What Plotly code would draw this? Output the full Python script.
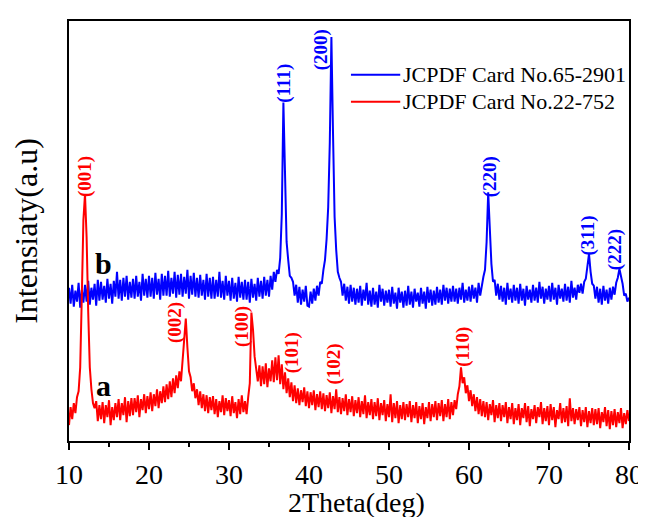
import plotly.graph_objects as go

# 2theta sampling grid (deg), 0.2 deg step from 10 to 80
two_theta = [round(10 + 0.2 * i, 1) for i in range(351)]

# Sample a (red, JCPDF 22-752) intensities, arbitrary units
intensity_a = [
    16, 34, 22, 38, 28, 44, 50, 74, 145, 222,
    248, 205, 130, 74, 52, 38, 33, 40, 20, 36,
    22, 39, 18, 36, 24, 41, 16, 34, 21, 38,
    24, 42, 21, 38, 26, 44, 19, 40, 25, 43,
    26, 43, 29, 46, 24, 42, 31, 47, 28, 45,
    32, 49, 30, 47, 35, 52, 33, 50, 38, 55,
    39, 57, 42, 60, 44, 63, 48, 66, 53, 70,
    60, 80, 100, 123, 94, 70, 64, 50, 58, 43,
    52, 36, 50, 33, 47, 30, 46, 28, 44, 31,
    45, 27, 42, 24, 40, 29, 46, 26, 43, 30,
    41, 25, 45, 28, 39, 23, 42, 27, 46, 29,
    40, 27, 44, 58, 129, 112, 85, 72, 60, 76,
    55, 75, 57, 78, 54, 73, 60, 81, 59, 84,
    61, 86, 57, 77, 52, 69, 48, 63, 44, 59,
    40, 56, 38, 53, 36, 51, 39, 54, 35, 50,
    33, 49, 36, 51, 31, 47, 34, 50, 32, 48,
    30, 46, 33, 49, 28, 45, 32, 52, 29, 44,
    27, 43, 30, 47, 26, 42, 29, 45, 25, 41,
    28, 44, 24, 40, 27, 46, 23, 39, 26, 42,
    22, 39, 25, 43, 21, 38, 26, 41, 20, 37,
    24, 47, 19, 38, 23, 40, 18, 36, 22, 39,
    21, 37, 24, 40, 19, 36, 23, 39, 18, 35,
    22, 38, 17, 34, 23, 39, 20, 37, 24, 40,
    21, 38, 25, 41, 20, 37, 24, 42, 22, 39,
    26, 41, 32, 47, 55, 74, 58, 64, 48, 56,
    40, 51, 35, 47, 30, 44, 27, 42, 25, 40,
    24, 39, 21, 37, 26, 41, 19, 36, 23, 38,
    20, 36, 24, 39, 18, 34, 22, 38, 17, 33,
    21, 37, 16, 33, 23, 38, 19, 35, 15, 32,
    22, 36, 18, 34, 24, 39, 17, 33, 20, 35,
    16, 37, 21, 34, 14, 31, 22, 38, 18, 33,
    19, 35, 15, 43, 20, 33, 17, 32, 21, 34,
    15, 31, 19, 34, 14, 30, 18, 33, 16, 32,
    17, 33, 13, 29, 19, 34, 15, 31, 12, 30,
    16, 32, 14, 29, 18, 33, 13, 28, 17, 31,
    20,
]

# Sample b (blue, JCPDF 65-2901) intensities, arbitrary units (offset upward)
intensity_b = [
    154, 138, 157, 135, 151, 140, 159, 134, 152, 139,
    157, 140, 161, 137, 154, 142, 158, 136, 162, 141,
    160, 142, 156, 139, 163, 143, 158, 138, 161, 145,
    170, 143, 162, 141, 164, 145, 166, 142, 160, 144,
    163, 143, 166, 145, 160, 141, 168, 146, 163, 144,
    166, 145, 164, 143, 169, 147, 163, 142, 168, 146,
    166, 146, 171, 145, 164, 148, 170, 144, 167, 147,
    168, 145, 165, 148, 172, 143, 166, 147, 169, 145,
    164, 144, 167, 146, 162, 142, 168, 145, 164, 143,
    165, 143, 162, 145, 170, 144, 161, 142, 166, 146,
    161, 141, 164, 143, 159, 140, 165, 144, 160, 142,
    162, 142, 160, 139, 163, 144, 158, 141, 164, 145,
    161, 143, 165, 146, 162, 145, 166, 152, 170, 160,
    172, 168, 184, 228, 340, 262, 200, 182, 166, 164,
    160, 146, 157, 139, 155, 137, 152, 140, 156, 136,
    135, 150, 138, 153, 141, 156, 146, 160, 158, 172,
    182, 203, 235, 300, 406, 310, 225, 192, 170, 164,
    160, 146, 158, 141, 155, 138, 157, 140, 154, 137,
    153, 139, 156, 136, 152, 141, 159, 137, 151, 135,
    154, 137, 150, 134, 157, 140, 153, 136, 151, 139,
    152, 135, 155, 138, 149, 133, 154, 139, 150, 134,
    151, 136, 156, 137, 150, 134, 153, 140, 149, 135,
    154, 138, 150, 133, 155, 139, 152, 136, 151, 137,
    155, 139, 152, 137, 157, 141, 154, 138, 153, 140,
    156, 140, 153, 138, 154, 142, 159, 139, 152, 141,
    155, 140, 157, 143, 154, 139, 159, 146, 158, 165,
    172, 200, 250, 205, 178, 160, 162, 146, 158, 142,
    156, 140, 154, 137, 159, 142, 153, 139, 157, 141,
    154, 138, 158, 141, 153, 136, 156, 142, 152, 139,
    157, 141, 154, 139, 160, 143, 155, 138, 153, 142,
    156, 140, 159, 142, 154, 137, 157, 143, 153, 140,
    158, 141, 155, 139, 161, 144, 154, 142, 157, 149,
    158, 148, 160, 163, 176, 188, 170, 158, 156, 143,
    155, 139, 153, 137, 156, 141, 152, 138, 154, 142,
    155, 147, 159, 164, 173, 166, 158, 146, 148, 140,
    144,
]

series_names = ["JCPDF Card No.65-2901", "JCPDF Card No.22-752"]

# Miller index labels: (text, 2theta, intensity position)
labels_b = ["(111)", "(200)", "(220)", "(311)", "(222)"]
labels_b_x = [36.87, 41.43, 62.62, 74.83, 78.28]
labels_b_y = [360, 393, 266, 206, 192]

labels_a = ["(001)", "(002)", "(100)", "(101)", "(102)", "(110)"]
labels_a_x = [11.97, 23.19, 31.57, 37.98, 43.15, 59.30]
labels_a_y = [266, 119, 115, 89, 77, 95]

sample_tags = ["a", "b"]
sample_tags_x = [14.3, 14.3]
sample_tags_y = [56, 178]

BLUE = "#0000FF"
RED = "#FF0000"
FONT = "Liberation Serif"

fig = go.Figure()
fig.add_trace(go.Scatter(x=two_theta, y=intensity_b, mode="lines", name=series_names[0],
                         line=dict(color=BLUE, width=2)))
fig.add_trace(go.Scatter(x=two_theta, y=intensity_a, mode="lines", name=series_names[1],
                         line=dict(color=RED, width=2)))

annotations = []
for t, x, y in zip(labels_b, labels_b_x, labels_b_y):
    annotations.append(dict(x=x, y=y, text=t, textangle=-90, showarrow=False,
                            font=dict(family=FONT, size=19, color=BLUE, weight="bold")))
for t, x, y in zip(labels_a, labels_a_x, labels_a_y):
    annotations.append(dict(x=x, y=y, text=t, textangle=-90, showarrow=False,
                            font=dict(family=FONT, size=19, color=RED, weight="bold")))
for t, x, y in zip(sample_tags, sample_tags_x, sample_tags_y):
    annotations.append(dict(x=x, y=y, text=t, showarrow=False,
                            font=dict(family=FONT, size=30, color="black", weight="bold")))

# Legend drawn as line samples + text (paper coordinates of the plot area)
legend_colors = [BLUE, RED]
legend_y = [0.872, 0.808]
shapes = []
for name, col, ly in zip(series_names, legend_colors, legend_y):
    shapes.append(dict(type="line", xref="paper", yref="paper", x0=0.5035, x1=0.5915,
                       y0=ly, y1=ly, line=dict(color=col, width=2)))
    annotations.append(dict(xref="paper", yref="paper", x=0.593, y=ly, xanchor="left",
                            yanchor="middle", text=name, showarrow=False,
                            font=dict(family=FONT, size=22, color="black")))

# x-axis title
annotations.append(dict(xref="paper", yref="paper", x=0.514, y=-0.146, xanchor="center",
                        yanchor="middle", text="2Theta(deg)", showarrow=False,
                        font=dict(family=FONT, size=28, color="black")))

fig.update_layout(
    width=646, height=517,
    margin=dict(l=61, r=17, t=11, b=84),
    paper_bgcolor="white", plot_bgcolor="white",
    font=dict(family=FONT, color="black"),
    showlegend=False,
    annotations=annotations,
    shapes=shapes,
    xaxis=dict(range=[10, 80], tickmode="array", tickvals=[10, 20, 30, 40, 50, 60, 70, 80],
               ticks="outside", ticklen=7, tickwidth=2, tickcolor="black",
               minor=dict(tickvals=[15, 25, 35, 45, 55, 65, 75], ticks="outside",
                          ticklen=4, tickwidth=2, tickcolor="black"),
               showline=True, linewidth=2, linecolor="black", mirror=True,
               showgrid=False, zeroline=False,
               tickfont=dict(family=FONT, size=28)),
    yaxis=dict(range=[0, 422], showticklabels=False, ticks="",
               showline=True, linewidth=2, linecolor="black", mirror=True,
               showgrid=False, zeroline=False,
               title=dict(text="Intensiaty(a.u)", font=dict(family=FONT, size=32), standoff=20)),
)

fig.write_html("out.html")
